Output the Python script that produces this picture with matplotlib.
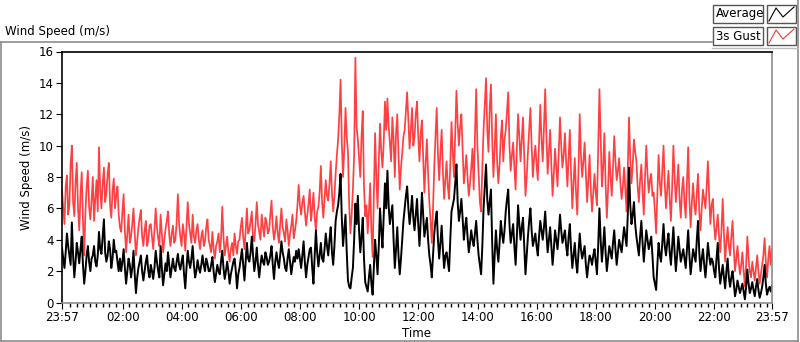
import numpy as np
import pandas as pd
import matplotlib
matplotlib.use("Agg")
import matplotlib.pyplot as plt
from matplotlib.patches import Rectangle
from matplotlib.lines import Line2D

# Ráfaga 3s y promedio: 24 muestras por hora (cada 2.5 min)
gust_h = [
    "7.2 6.0 5.0 7.4 8.1 5.6 6.2 8.8 10.0 6.4 5.5 7.7 8.9 6.0 4.6 6.9 8.3 5.2 3.0 5.8 7.4 8.4 6.1 5.3",
    "6.5 8.0 5.2 6.6 7.8 5.8 9.9 7.2 6.0 7.6 8.6 6.4 7.0 8.2 8.9 6.2 5.4 7.1 7.9 6.0 6.8 7.4 5.6 4.8",
    "4.5 5.8 6.9 4.6 3.2 4.4 5.6 3.8 4.2 5.0 6.0 4.4 3.0 3.9 4.8 5.4 5.9 4.2 3.6 4.6 5.2 3.6 4.0 4.9",
    "5.0 4.2 3.4 4.6 6.0 4.8 4.1 3.6 5.6 4.4 3.2 4.0 4.7 5.2 5.8 4.3 3.6 4.4 4.9 3.8 4.0 5.1 6.9 5.0",
    "4.2 3.6 5.0 4.4 3.3 4.8 6.4 5.0 4.4 3.8 5.6 4.2 3.8 4.6 5.0 4.0 3.4 4.2 4.6 3.6 3.9 4.8 5.3 4.0",
    "3.6 3.2 4.5 3.4 2.8 3.6 3.9 4.4 3.2 4.0 6.1 4.2 3.0 3.6 4.2 3.2 2.6 3.4 3.8 3.0 4.4 3.6 3.1 3.9",
    "4.0 4.8 5.4 4.2 3.4 4.6 6.0 4.4 4.6 5.2 5.8 4.0 3.9 5.0 6.4 5.0 4.5 4.0 5.6 4.8 4.2 5.4 5.1 4.4",
    "4.6 5.6 6.5 4.8 4.0 4.6 5.5 4.4 3.8 5.0 6.0 4.8 4.4 3.9 5.3 4.6 3.6 4.4 4.9 5.6 4.1 4.6 5.2 6.2",
    "7.5 6.2 5.6 6.4 6.8 5.8 4.9 5.6 6.3 7.2 5.2 6.0 7.0 5.4 4.6 5.8 6.1 7.0 8.7 6.4 5.4 6.6 7.8 6.8",
    "6.5 7.6 9.0 7.0 5.8 6.8 8.2 9.4 10.4 12.0 14.2 10.2 8.0 9.8 12.4 10.6 9.6 6.2 4.4 5.6 7.2 9.4 15.6 11.2",
    "10.4 9.2 8.0 10.6 12.2 7.4 5.5 6.2 4.4 5.8 7.6 4.6 2.9 6.8 10.8 8.0 6.0 9.0 11.4 9.6 8.6 10.2 12.8 11.0",
    "13.0 11.2 10.2 9.0 11.8 10.4 8.0 10.8 12.0 9.4 7.2 8.6 9.5 10.6 11.0 12.2 13.4 11.6 9.8 11.0 12.4 10.0 10.6 12.0",
    "12.8 10.6 9.0 10.8 11.6 9.2 7.0 8.8 10.4 8.2 6.4 5.2 3.8 6.0 8.6 10.6 12.4 9.4 7.8 9.6 11.0 8.4 6.6 7.8",
    "9.0 7.4 6.6 8.8 11.5 9.6 8.0 10.8 13.5 11.4 10.0 11.2 12.0 9.8 7.6 8.4 9.4 8.0 6.8 7.6 8.6 9.8 7.2 10.6",
    "13.6 10.0 8.2 6.4 5.8 8.6 11.0 12.6 14.3 11.0 9.6 12.4 13.9 10.4 8.0 9.8 12.0 9.0 7.6 8.8 10.6 11.6 9.0 10.4",
    "11.0 12.2 13.4 10.0 8.4 9.4 10.2 8.6 7.2 9.8 12.0 10.6 9.0 10.4 11.8 9.2 6.8 8.0 9.6 11.0 12.4 10.0 8.0 9.2",
    "10.0 8.8 7.8 10.2 12.6 10.4 9.0 11.2 13.6 10.6 8.2 9.6 11.0 8.8 6.8 8.2 9.8 8.6 7.4 9.6 11.8 10.0 8.6 9.4",
    "10.8 9.0 7.4 9.2 11.0 8.2 6.0 7.6 9.2 7.0 5.6 8.4 12.0 9.4 8.0 9.0 10.2 8.2 6.4 7.8 9.4 7.2 5.8 7.0",
    "8.2 7.0 6.2 9.8 13.6 10.4 7.4 8.6 10.8 7.6 5.4 7.2 9.6 8.0 6.8 8.6 10.6 9.0 7.8 8.4 9.2 7.6 6.6 7.4",
    "8.6 7.2 5.8 8.6 11.8 9.2 7.6 8.8 10.4 9.6 9.0 7.4 6.4 7.8 8.8 7.0 5.6 8.0 10.0 8.2 7.0 7.8 8.2 6.8",
    "7.0 5.8 4.4 6.8 9.4 7.6 6.8 8.4 10.0 7.6 6.0 7.2 8.4 6.6 5.2 7.4 10.0 8.0 6.4 7.6 8.8 6.6 5.4 7.2",
    "8.0 6.4 5.4 7.6 9.9 6.6 4.8 6.4 7.6 6.2 5.6 7.0 8.2 5.8 4.6 6.0 7.2 6.6 6.0 7.4 9.0 6.8 5.0 6.2",
    "6.6 5.0 4.0 4.8 5.6 4.2 3.2 4.6 6.6 4.4 2.6 3.8 4.8 3.6 3.0 4.2 5.2 3.4 2.0 2.8 3.6 2.6 1.8 2.4",
    "3.2 2.0 1.0 2.4 4.2 2.8 2.0 1.6 2.6 2.0 1.4 2.2 3.0 2.0 1.2 1.8 2.4 3.0 4.1 2.6 1.6 2.8 3.6 2.4",
    "3.4",
]
avg_h = [
    "3.5 2.8 2.2 3.2 4.4 3.6 3.0 2.4 5.1 3.0 1.6 2.6 3.8 3.2 2.5 3.4 4.2 2.4 1.2 2.0 3.0 3.6 2.6 2.0",
    "2.8 3.0 3.6 2.6 2.3 3.0 4.5 3.4 3.1 4.2 5.3 3.2 2.6 3.0 3.9 3.4 2.2 2.8 4.0 3.2 3.3 2.6 2.0 2.8",
    "2.0 2.6 3.4 2.2 1.2 2.0 2.8 2.4 1.6 2.2 3.3 1.8 0.6 1.6 2.2 2.6 3.0 2.0 1.4 2.0 2.6 3.0 2.0 1.6",
    "2.4 2.0 1.5 2.2 3.3 2.6 2.0 1.6 3.6 2.2 1.1 1.8 2.5 2.0 3.2 2.4 1.6 2.2 2.8 2.2 2.0 2.6 3.1 2.4",
    "2.1 2.6 3.0 1.8 0.9 2.2 3.3 2.6 2.2 2.8 3.6 2.4 1.6 2.0 2.7 2.2 1.9 2.4 3.0 2.4 2.0 2.8 2.5 2.0",
    "2.0 2.4 2.9 2.0 1.3 1.8 2.4 2.0 1.8 2.6 3.3 2.2 1.5 2.0 2.6 2.0 1.2 1.8 2.2 2.6 2.8 2.0 0.9 1.8",
    "2.2 2.8 3.4 2.4 1.4 2.6 3.8 2.8 2.6 3.2 4.2 3.0 2.0 2.6 3.5 2.4 1.6 2.4 3.0 2.6 2.4 3.2 2.9 2.4",
    "2.6 3.0 3.6 2.4 1.5 2.6 3.2 2.6 2.2 3.0 3.9 3.2 2.8 2.2 2.0 2.8 3.4 2.6 1.8 2.4 2.9 2.6 3.3 2.8",
    "3.4 2.8 2.2 3.0 3.9 2.6 1.6 2.4 2.9 3.4 3.5 2.2 1.2 3.0 4.6 3.2 2.3 3.0 3.8 2.8 2.6 3.4 4.4 3.6",
    "3.0 4.0 4.8 3.2 2.4 3.6 5.2 5.8 6.2 7.0 8.2 5.4 3.6 4.6 5.6 3.2 1.4 1.0 0.9 1.6 2.2 4.0 6.3 5.0",
    "6.8 4.6 3.2 4.2 5.4 2.8 1.3 1.0 0.7 1.6 2.4 1.2 0.5 2.2 4.0 3.0 1.8 3.6 6.0 4.6 3.5 5.6 7.6 6.0",
    "8.4 6.2 5.0 5.6 6.2 4.0 2.2 3.4 4.8 3.0 1.8 2.8 4.0 5.2 6.0 6.8 7.4 6.0 5.0 5.8 6.8 5.4 4.6 5.6",
    "6.6 5.0 3.6 5.2 7.0 5.6 4.2 4.8 5.4 4.0 3.0 2.4 1.6 3.0 4.4 5.2 5.8 4.0 2.8 3.8 4.9 3.4 2.2 3.0",
    "3.2 2.6 2.0 4.0 5.8 6.2 6.6 7.6 8.8 6.4 5.2 5.8 6.6 5.4 4.0 4.8 5.4 4.2 3.2 3.8 4.6 4.0 3.6 4.4",
    "5.2 4.0 3.0 2.4 1.8 3.6 6.0 7.4 8.8 6.6 5.6 6.4 7.2 3.8 1.2 3.0 4.6 3.4 2.6 3.8 5.2 4.4 3.8 4.6",
    "5.8 6.6 7.2 5.0 3.8 4.4 5.0 3.6 2.4 4.2 6.2 5.0 4.0 4.8 5.4 3.6 1.8 3.0 4.2 5.2 6.0 4.6 3.6 4.0",
    "4.4 3.6 3.0 4.2 5.2 4.6 4.0 4.8 5.8 4.4 3.2 4.0 4.8 3.6 2.4 3.4 4.6 4.0 3.4 4.4 5.6 4.6 3.8 4.2",
    "4.6 3.6 3.0 4.2 5.0 3.4 2.2 3.0 3.8 2.6 1.9 3.2 4.4 3.4 2.8 3.2 3.6 2.4 1.6 2.4 3.0 2.8 2.4 3.0",
    "3.4 2.6 1.8 3.6 6.0 4.0 2.6 3.6 4.8 3.2 2.0 2.8 3.6 3.2 2.8 3.8 4.6 3.4 2.4 3.2 4.0 3.6 3.2 4.0",
    "4.8 4.2 3.6 5.6 8.6 6.2 5.0 5.6 6.4 5.0 4.2 3.6 3.0 4.2 5.2 3.8 2.6 3.6 4.6 4.0 3.4 3.8 4.2 3.0",
    "1.6 1.2 0.8 2.4 3.8 3.0 2.6 3.8 5.0 3.6 3.0 3.8 4.4 3.2 2.4 3.6 4.8 3.2 2.0 3.0 4.2 3.4 2.6 3.0",
    "3.4 2.8 2.2 3.4 4.6 3.0 1.8 2.6 3.4 3.0 2.6 4.0 5.2 3.2 2.0 2.8 3.4 2.4 1.6 2.6 3.8 3.0 2.4 2.8",
    "2.6 2.0 1.6 2.8 3.8 2.2 1.2 1.8 2.4 1.6 0.9 2.0 2.8 1.6 1.0 1.6 2.0 1.2 0.4 0.8 1.4 1.0 0.6 0.9",
    "1.2 0.7 0.2 1.0 2.1 1.2 0.6 0.9 1.3 0.8 0.4 1.0 1.5 0.8 0.3 0.6 1.0 1.6 2.4 1.2 0.5 0.8 1.0 0.7",
    "1.1",
]
gust = [float(v) for h in gust_h for v in h.split()]
average = [float(v) for h in avg_h for v in h.split()]

start = pd.Timestamp("2020-01-01 23:57")
end = start + pd.Timedelta(hours=24)
times = pd.date_range(start, end, periods=len(gust))

major_hours = [2, 4, 6, 8, 10, 12, 14, 16, 18, 20, 22]

fig = plt.figure(figsize=(8, 3.42), dpi=100)
fig.patch.set_facecolor("white")

# marco gris exterior
gris = "#8c8c8c"
fig.add_artist(Line2D([0.001, 0.89], [1 - 42 / 342, 1 - 42 / 342], color=gris, lw=1.2))
fig.add_artist(Line2D([0.001, 0.001], [1 - 42 / 342, 0.003], color=gris, lw=1.2))
fig.add_artist(Line2D([0.001, 0.997], [0.003, 0.003], color=gris, lw=1.2))
fig.add_artist(Line2D([0.997, 0.997], [0.003, 1.0], color=gris, lw=1.2))
fig.add_artist(Line2D([0.89, 0.997], [1 - 48 / 342, 1 - 48 / 342], color="#bdbdbd", lw=1.0))
fig.text(5 / 800, 1 - 31 / 342, "Wind Speed (m/s)", fontsize=8.5, va="center", ha="left")

# leyenda estilo LabVIEW
for i, (lab, col) in enumerate([("Average", "black"), ("3s Gust", "#ff3333")]):
    y0 = 1 - (23 + i * 22) / 342
    fig.add_artist(Rectangle((713 / 800, y0), 50 / 800, 18 / 342, fill=False, ec="#555555", lw=1.0))
    fig.text(716 / 800, y0 + 9 / 342, lab, fontsize=8.5, va="center", ha="left")
    fig.add_artist(Rectangle((767 / 800, y0), 29 / 800, 18 / 342, fill=False, ec="#555555", lw=1.0))
    fig.add_artist(Line2D(np.array([769, 776, 783, 794]) / 800,
                          y0 + np.array([2, 15, 6, 16]) / 342, color=col, lw=0.8))

ax = fig.add_axes([62 / 800, 39.5 / 342, 710 / 800, 251 / 342])
ax.plot(times, gust, color="#ff4040", lw=1.25)
ax.plot(times, average, color="black", lw=1.4)

ax.set_xlim(start, end)
ax.set_ylim(0, 16)
ax.set_yticks(range(0, 17, 2))

day = pd.Timestamp("2020-01-02")
majors = [start] + [day + pd.Timedelta(hours=h) for h in major_hours] + [end]
ax.set_xticks(majors)
ax.set_xticklabels([t.strftime("%H:%M") for t in majors])
minors = [day + pd.Timedelta(minutes=m) for m in np.arange(0, 1440, 120 / 9)]
ax.set_xticks([m for m in minors if m.minute % 60 != 0 or m.hour % 2 == 1], minor=True)

ax.tick_params(axis="both", which="major", labelsize=8.5, length=4, color="black", pad=2)
ax.tick_params(axis="x", which="minor", length=3, width=1)
ax.set_xlabel("Time", fontsize=8.5, labelpad=2)
ax.set_ylabel("Wind Speed (m/s)", fontsize=8.5, labelpad=4)

ax.spines["top"].set_color("black")
ax.spines["left"].set_color("black")
ax.spines["right"].set_color(gris)
ax.spines["bottom"].set_color(gris)
for s in ax.spines.values():
    s.set_linewidth(1.2)

fig.savefig("out.png", dpi=100)
